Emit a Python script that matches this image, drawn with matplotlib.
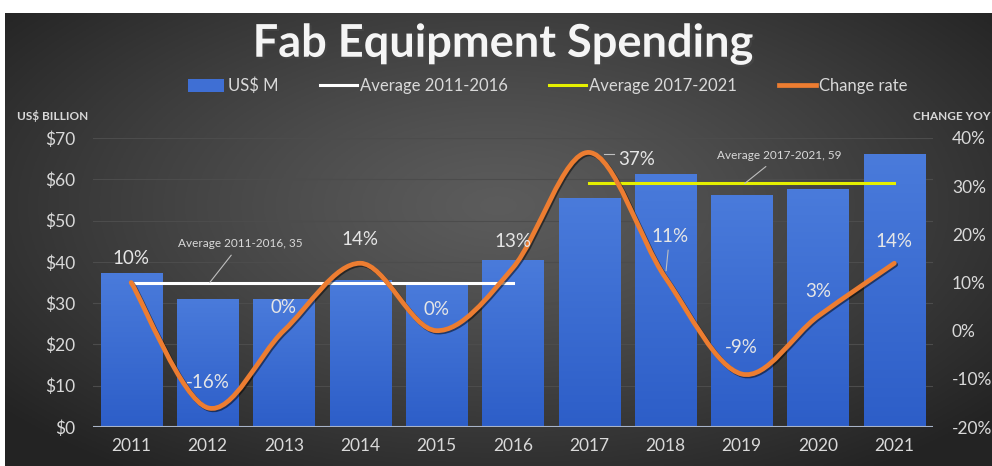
import numpy as np
import matplotlib.pyplot as plt
import matplotlib.patheffects as pe
from matplotlib.path import Path
from matplotlib.patches import PathPatch, Patch
from matplotlib.lines import Line2D
from matplotlib.colors import LinearSegmentedColormap

plt.rcParams['font.family'] = ['Lato', 'DejaVu Sans']

# data
years = ['2011', '2012', '2013', '2014', '2015', '2016',
         '2017', '2018', '2019', '2020', '2021']
spending = [37.3, 31.0, 31.0, 35.6, 34.4, 40.4, 55.4, 61.3, 56.2, 57.6, 66.1]
change_rate = [10, -16, 0, 14, 0, 13, 37, 11, -9, 3, 14]
avg_2011_2016 = 35
avg_2017_2021 = 59
left_ticks = [0, 10, 20, 30, 40, 50, 60, 70]
right_ticks = [-20, -10, 0, 10, 20, 30, 40]

# label offsets for the change rate labels (points)
label_off = [(0, 17), (0, 18), (0, 17), (0, 17), (0, 15), (0, 19),
             (34, -5), (3, 30), (0, 19), (0, 18), (0, 16)]

TXT = '#d9d9d9'
ORANGE = '#ed7d31'

fig = plt.figure(figsize=(9.92, 4.66), dpi=100, facecolor='white')

# dark radial background
bg = fig.add_axes([5 / 992, 0, 987 / 992, 453 / 466])
bg.set_axis_off()
gx, gy = np.meshgrid(np.linspace(-1, 1, 400), np.linspace(-1, 1, 200))
r = np.clip(np.sqrt((gx / 1.0) ** 2 + ((gy + 0.15) / 1.1) ** 2), 0, 1.3)
shade = 0.36 - 0.22 * (r / 1.3) ** 1.2
bg.imshow(np.dstack([shade, shade, shade]), aspect='auto', extent=[0, 1, 0, 1])
bg.set_xlim(0, 1)
bg.set_ylim(0, 1)

ax = fig.add_axes([93 / 992, 1 - 427 / 466, 839.5 / 992, 289 / 466])
ax.patch.set_alpha(0)
x = np.arange(len(years))

# bars with a vertical gradient
bars = ax.bar(x, spending, width=0.8, color='none', zorder=2)
grad = np.linspace(0, 1, 100).reshape(-1, 1)
bcmap = LinearSegmentedColormap.from_list('b', ['#2d5ec8', '#4a7bdb'])
for b in bars:
    im = ax.imshow(grad, cmap=bcmap, aspect='auto', origin='lower',
                   extent=[b.get_x(), b.get_x() + b.get_width(), 0, b.get_height()],
                   zorder=2)
    im.set_clip_path(b)

ax.set_xlim(-0.5, len(years) - 0.5)
ax.set_ylim(0, 70)
ax.set_yticks(left_ticks)
ax.set_yticklabels(['$%d' % v for v in left_ticks])
ax.set_xticks(x)
ax.set_xticklabels(years)
ax.tick_params(axis='both', length=0, colors=TXT, labelsize=12.5)
ax.tick_params(axis='y', pad=13)
ax.tick_params(axis='x', pad=8)
for s in ax.spines.values():
    s.set_visible(False)
ax.grid(axis='y', color='#4c4c4c', lw=0.8, zorder=1)
ax.axhline(0, color='#a9b4c8', lw=1.5, zorder=3)

# averages
ax.plot([0, 5], [avg_2011_2016] * 2, color='white', lw=2.2, zorder=4)
ax.plot([6, 10], [avg_2017_2021] * 2, color='#e5f000', lw=2.2, zorder=4)
ax.annotate('Average 2011-2016, 35', xy=(1.03, avg_2011_2016), xytext=(22, 28),
            textcoords='offset points', ha='center', va='center', color=TXT,
            fontsize=8.5, arrowprops=dict(arrowstyle='-', color='#bfbfbf', lw=0.8,
                                          shrinkA=3, shrinkB=0), zorder=6)
ax.annotate('Average 2017-2021, 59', xy=(8.04, avg_2017_2021), xytext=(25, 20),
            textcoords='offset points', ha='center', va='center', color=TXT,
            fontsize=8.5, arrowprops=dict(arrowstyle='-', color='#bfbfbf', lw=0.8,
                                          shrinkA=3, shrinkB=0), zorder=6)

# change rate, smoothed line on right axis
ax2 = ax.twinx()
ax2.set_ylim(-20, 40)
ax2.set_yticks(right_ticks)
ax2.set_yticklabels(['%d%%' % v for v in right_ticks])
ax2.tick_params(axis='y', length=0, colors=TXT, labelsize=12.5, pad=14)
for s in ax2.spines.values():
    s.set_visible(False)

pts = np.column_stack([x, change_rate]).astype(float)
verts = [pts[0]]
codes = [Path.MOVETO]
n = len(pts)
for i in range(n - 1):
    p0 = pts[i - 1] if i > 0 else pts[i]
    p3 = pts[i + 2] if i + 2 < n else pts[i + 1]
    c1 = pts[i] + (pts[i + 1] - p0) / 6
    c2 = pts[i + 1] - (p3 - pts[i]) / 6
    verts += [c1, c2, pts[i + 1]]
    codes += [Path.CURVE4] * 3
curve = PathPatch(Path(verts, codes), facecolor='none', edgecolor=ORANGE, lw=3.4,
                  capstyle='round', zorder=5,
                  path_effects=[pe.SimpleLineShadow(offset=(1, -1), shadow_color='black', alpha=0.5),
                                pe.Normal()])
ax2.add_patch(curve)

for i, v in enumerate(change_rate):
    dx, dy = label_off[i]
    kw = {}
    if i == 7:
        kw['arrowprops'] = dict(arrowstyle='-', color='#bfbfbf', lw=0.8, shrinkA=2, shrinkB=5)
    ax2.annotate('%d%%' % v, xy=(i, v), xytext=(dx, dy), textcoords='offset points',
                 ha='center', va='center', color='#e6e6e6', fontsize=13.5, zorder=7, **kw)
ax2.plot([6.2, 6.33], [36.6, 36.6], color='#bfbfbf', lw=0.8, zorder=6)

# axis titles
fig.text(17 / 992, 1 - 116 / 466, 'US$ BILLION', color=TXT, fontsize=8.5,
         fontweight='bold', ha='left', va='center')
fig.text(913 / 992, 1 - 116 / 466, 'CHANGE YOY', color=TXT, fontsize=8.5,
         fontweight='bold', ha='left', va='center')

fig.text(0.507, 1 - 44 / 466, 'Fab Equipment Spending', color='#f5f5f5',
         fontsize=32.5, fontweight='bold', ha='center', va='center',
         path_effects=[pe.withSimplePatchShadow(offset=(1.5, -1.5), alpha=0.6)])

handles = [Patch(facecolor='#3f6fd4'),
           Line2D([], [], color='white', lw=2.2),
           Line2D([], [], color='#e5f000', lw=2.2),
           Line2D([], [], color=ORANGE, lw=3.4)]
fig.legend(handles, ['US$ M', 'Average 2011-2016', 'Average 2017-2021', 'Change rate'],
           loc='center', bbox_to_anchor=(0.552, 1 - 86 / 466), ncol=4, frameon=False,
           fontsize=12, labelcolor=TXT, handlelength=2.2, handletextpad=0.2,
           columnspacing=2.5, handleheight=0.8)

fig.savefig('out.png', dpi=100, facecolor='white')
